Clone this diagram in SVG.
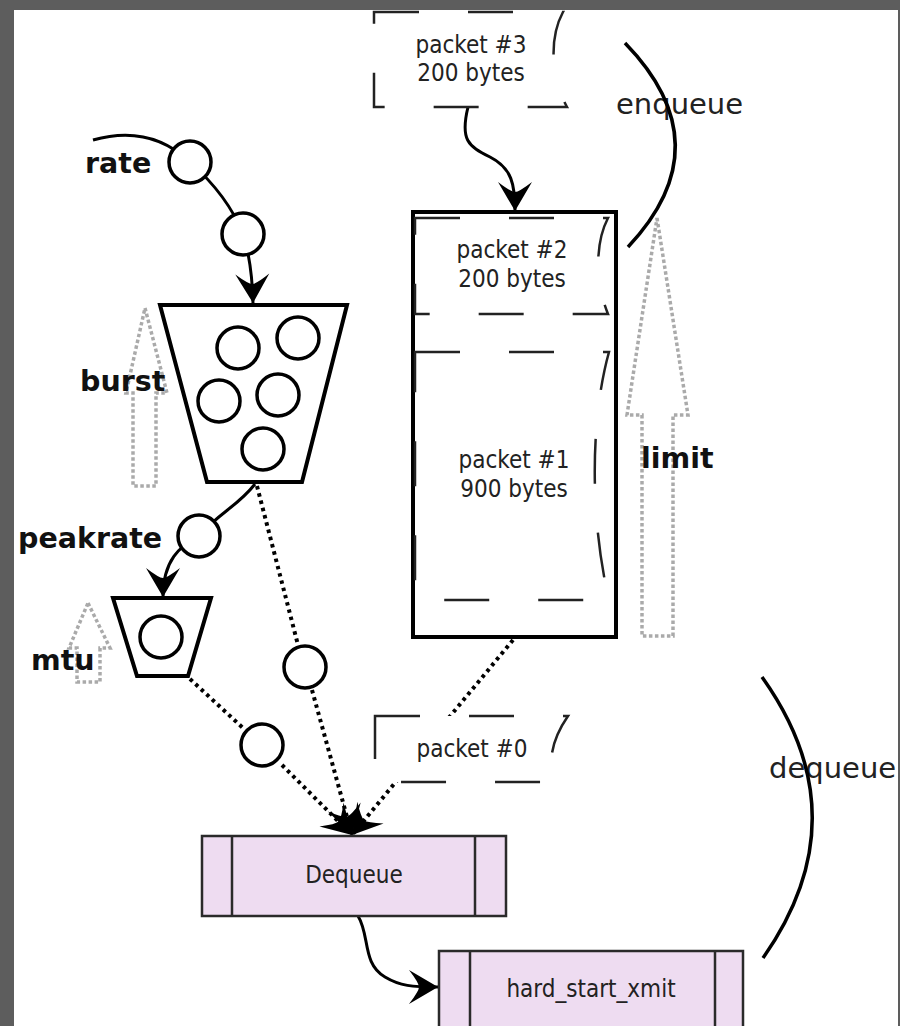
<svg xmlns="http://www.w3.org/2000/svg" width="900" height="1026" viewBox="0 0 900 1026">
<style>
.lbl{font-family:"DejaVu Sans","Liberation Sans",sans-serif;font-weight:bold;font-size:28.5px;fill:#111}
.big{font-family:"DejaVu Sans","Liberation Sans",sans-serif;font-size:29px;fill:#222}
.pk{font-family:"DejaVu Sans Condensed","DejaVu Sans",sans-serif;font-stretch:condensed;font-size:24px;fill:#222;text-anchor:middle}
.tok{fill:#fff;stroke:#000;stroke-width:3.5}
.bucket{fill:#fff;stroke:#000;stroke-width:4;stroke-linejoin:miter}
.pkt{fill:#fff;stroke:#222;stroke-width:2.5;stroke-dasharray:45 49}
.hollow{fill:none;stroke:#aaa;stroke-width:3.5;stroke-dasharray:3.5 2.5}
.conn{fill:none;stroke:#000;stroke-width:3}
.dot{fill:none;stroke:#000;stroke-width:4;stroke-dasharray:3.5 4}
.proc{fill:#eedcf1;stroke:#2a2a2a;stroke-width:2.5}
.arc{fill:none;stroke:#000;stroke-width:3.5}
</style>
<defs>
<marker id="ah" viewBox="-32 -18 34 36" refX="0" refY="0" markerWidth="34" markerHeight="36" markerUnits="userSpaceOnUse" orient="auto">
<path d="M0,0 L-29,-17 Q-19,-4 -19,0 Q-19,4 -29,17 Z" fill="#000"/>
</marker>
</defs>
<rect x="0" y="0" width="900" height="1026" fill="#5d5d5d"/>
<rect x="14" y="10" width="884" height="1016" fill="#fff"/>

<g id="hollow-arrows">
<polygon class="hollow" points="145,308 167,393 156,393 156,486 133,486 133,393 126,393"/>
<polygon class="hollow" points="657,218 688,415 673,415 673,636 642,636 642,415 627,415"/>
<polygon class="hollow" points="88,603 110,648 100,648 100,682 77,682 77,648 69,648"/>
</g>

<g id="connectors">
<path class="conn" d="M93,140 Q150,124 190,162 Q228,196 243,234 Q252,262 253,303" marker-end="url(#ah)"/>
<path class="conn" d="M255,484 C238,506 220,512 199,536 C180,546 163,560 163,597" marker-end="url(#ah)"/>
<path class="conn" d="M468,107 C460,140 468,146 490,157 C512,168 515,185 515,211" marker-end="url(#ah)"/>
<path class="conn" d="M358,916 C370,935 362,964 385,977 C400,986 412,987 438,987" marker-end="url(#ah)"/>
<path class="dot" d="M257,486 L298,645"/>
<path class="dot" d="M190,679 L243,728"/>
<path class="dot" d="M312,690 L352,835" marker-end="url(#ah)"/>
<path class="dot" d="M282,765 L352,835" marker-end="url(#ah)"/>
<path class="dot" d="M513,640 L352,835" marker-end="url(#ah)"/>
</g>

<g id="rate-tokens">
<circle class="tok" cx="190" cy="162" r="21"/>
<circle class="tok" cx="243" cy="234" r="21"/>
</g>

<g id="bucket">
<polygon class="bucket" points="160,305 347,305 302,482 207,482"/>
<circle class="tok" cx="238" cy="348" r="21"/>
<circle class="tok" cx="298" cy="338" r="21"/>
<circle class="tok" cx="219" cy="401" r="21"/>
<circle class="tok" cx="278" cy="395" r="21"/>
<circle class="tok" cx="263" cy="449" r="21"/>
</g>

<g id="peak-token"><circle class="tok" cx="199" cy="536" r="21"/></g>

<g id="mtu-bucket">
<polygon class="bucket" points="113,598 211,598 188,676 137,676"/>
<circle class="tok" cx="161" cy="637" r="21"/>
</g>

<g id="dotted-tokens">
<circle class="tok" cx="305" cy="667" r="21"/>
<circle class="tok" cx="262" cy="745" r="21"/>
</g>

<g id="packet3">
<path class="pkt" d="M374,12 H563 C548,40 552,80 567,107 H374 Z"/>
<text class="pk" x="471" y="53">packet #3</text>
<text class="pk" x="471" y="81">200 bytes</text>
</g>

<g id="queue">
<rect x="413" y="212" width="203" height="425" fill="#fff" stroke="#000" stroke-width="4"/>
</g>

<g id="packet2">
<path class="pkt" d="M415,218 H608 C594,245 596,285 608,314 H415 Z"/>
<text class="pk" x="512" y="258">packet #2</text>
<text class="pk" x="512" y="287">200 bytes</text>
</g>

<g id="packet1">
<path class="pkt" d="M415,352 H609 C590,420 590,520 609,600 H415 Z"/>
<text class="pk" x="514" y="468">packet #1</text>
<text class="pk" x="514" y="497">900 bytes</text>
</g>

<g id="packet0">
<path class="pkt" d="M375,716 H568 C548,745 548,770 558,782 H375 Z"/>
<text class="pk" x="472" y="757">packet #0</text>
</g>

<g id="labels">
<text class="lbl" x="85" y="173">rate</text>
<text class="lbl" x="80" y="391">burst</text>
<text class="lbl" x="18" y="548">peakrate</text>
<text class="lbl" x="31" y="670">mtu</text>
<text class="lbl" x="641" y="468">limit</text>
</g>

<g id="enqueue">
<text class="big" x="616" y="114">enqueue</text>
<path class="arc" d="M625,43 Q724,145 628,247"/>
</g>

<g id="dequeue">
<text class="big" x="769" y="778">dequeue</text>
<path class="arc" d="M762,677 Q862,817 763,958"/>
</g>

<g id="Dequeue">
<rect class="proc" x="202" y="836" width="304" height="80"/>
<line x1="232" y1="836" x2="232" y2="916" stroke="#2a2a2a" stroke-width="2.5"/>
<line x1="475" y1="836" x2="475" y2="916" stroke="#2a2a2a" stroke-width="2.5"/>
<text class="pk" x="354" y="883">Dequeue</text>
</g>

<g id="hard_start_xmit">
<rect class="proc" x="439" y="951" width="304" height="90"/>
<line x1="470" y1="951" x2="470" y2="1041" stroke="#2a2a2a" stroke-width="2.5"/>
<line x1="715" y1="951" x2="715" y2="1041" stroke="#2a2a2a" stroke-width="2.5"/>
<text class="pk" x="591" y="997">hard_start_xmit</text>
</g>
</svg>
